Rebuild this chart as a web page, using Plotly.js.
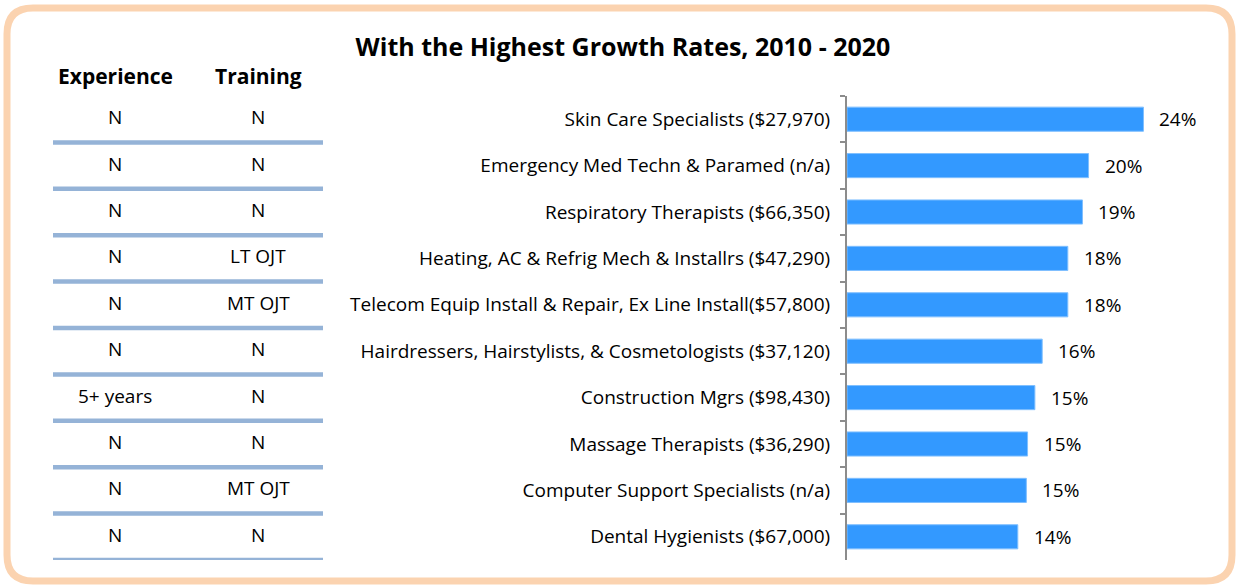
<!DOCTYPE html>
<html>
<head>
<meta charset="utf-8">
<script src="https://cdn.plot.ly/plotly-3.0.1.min.js"></script>
<style>html,body{margin:0;padding:0;background:#fff;}#chart{width:1239px;height:586px;}</style>
</head>
<body>
<div id="chart"></div>
<script>
// ---- data ----
const occupations = [
  "Skin Care Specialists ($27,970)",
  "Emergency Med Techn & Paramed (n/a)",
  "Respiratory Therapists ($66,350)",
  "Heating, AC & Refrig Mech & Installrs ($47,290)",
  "Telecom Equip Install & Repair, Ex Line Install($57,800)",
  "Hairdressers, Hairstylists, & Cosmetologists ($37,120)",
  "Construction Mgrs ($98,430)",
  "Massage Therapists ($36,290)",
  "Computer Support Specialists (n/a)",
  "Dental Hygienists ($67,000)"
];
const growthPct = [24.3, 19.8, 19.3, 18.1, 18.1, 16.0, 15.4, 14.8, 14.7, 14.0];
const growthLabels = ["24%", "20%", "19%", "18%", "18%", "16%", "15%", "15%", "15%", "14%"];
const experience = ["N", "N", "N", "N", "N", "N", "5+ years", "N", "N", "N"];
const training = ["N", "N", "N", "LT OJT", "MT OJT", "N", "N", "N", "MT OJT", "N"];
const tableHeaders = ["Experience", "Training"];
const chartTitle = "With the Highest Growth Rates, 2010 - 2020";

// ---- layout helpers (page pixels -> paper) ----
const W = 1239, H = 586;
const px = x => x / W;
const py = y => 1 - y / H;
const FONT = "'Open Sans', Lato, sans-serif";

const trace = {
  type: "bar",
  orientation: "h",
  y: occupations,
  x: growthPct,
  marker: { color: "#3399ff", line: { color: "#7fbfff", width: 1 } },
  hoverinfo: "skip",
  cliponaxis: false
};

const annotations = [];
// value labels
growthPct.forEach((v, i) => {
  annotations.push({
    x: v, y: i, xref: "x", yref: "y", text: growthLabels[i],
    showarrow: false, xanchor: "left", yanchor: "middle", xshift: 14, yshift: 0,
    font: { family: FONT, size: 19, color: "#000" }
  });
});
// table headers
const colX = [115, 258];
tableHeaders.forEach((h, j) => {
  annotations.push({
    x: px(colX[j]), y: py(76), xref: "paper", yref: "paper", text: "<b>" + h + "</b>",
    showarrow: false, xanchor: "center", yanchor: "middle",
    font: { family: FONT, size: 21, color: "#000" }
  });
});
// table rows
[experience, training].forEach((col, j) => {
  col.forEach((t, i) => {
    annotations.push({
      x: px(colX[j]), y: i, xref: "paper", yref: "y", text: t,
      showarrow: false, xanchor: "center", yanchor: "middle", yshift: 2,
      font: { family: FONT, size: 19, color: "#000" }
    });
  });
});

const shapes = [];
// separators under each row
occupations.forEach((o, i) => {
  shapes.push({
    type: "line", xref: "paper", yref: "y",
    x0: px(53), x1: px(323), y0: i + 0.5, y1: i + 0.5,
    line: { color: "#95b3d7", width: 4.5 }
  });
});
// rounded frame
const L = 7, T = 8, R = 1232, B = 581, r = 26;
const framePath =
  `M ${px(L + r)},${py(T)} L ${px(R - r)},${py(T)} Q ${px(R)},${py(T)} ${px(R)},${py(T + r)} ` +
  `L ${px(R)},${py(B - r)} Q ${px(R)},${py(B)} ${px(R - r)},${py(B)} ` +
  `L ${px(L + r)},${py(B)} Q ${px(L)},${py(B)} ${px(L)},${py(B - r)} ` +
  `L ${px(L)},${py(T + r)} Q ${px(L)},${py(T)} ${px(L + r)},${py(T)} Z`;
shapes.push({
  type: "path", xref: "paper", yref: "paper", path: framePath,
  line: { color: "#fbd3b0", width: 7 }, layer: "below"
});

const layout = {
  width: W, height: H,
  margin: { l: 0, r: 0, t: 0, b: 0 },
  paper_bgcolor: "#fff", plot_bgcolor: "rgba(0,0,0,0)",
  showlegend: false,
  title: {
    text: "<b>" + chartTitle + "</b>", x: px(623), xanchor: "center",
    y: py(47), yanchor: "middle", yref: "paper",
    font: { family: FONT, size: 25, color: "#000" }
  },
  xaxis: {
    domain: [px(847), px(1213)], range: [0, 30],
    showgrid: false, zeroline: false, showline: false, showticklabels: false, ticks: ""
  },
  yaxis: {
    domain: [1 - 560 / H, 1 - 96 / H], type: "category",
    range: [9.5, -0.5],
    showgrid: false, zeroline: false,
    showline: true, linecolor: "#8c8c8c", linewidth: 2,
    ticks: "outside", tickson: "boundaries", ticklen: 5, tickcolor: "#8c8c8c", tickwidth: 2,
    ticklabelstandoff: 11,
    tickfont: { family: FONT, size: 19, color: "#000" }
  },
  bargap: 0.48,
  annotations: annotations,
  shapes: shapes
};

Plotly.newPlot("chart", [trace], layout, { staticPlot: true, displayModeBar: false });
</script>
</body>
</html>
